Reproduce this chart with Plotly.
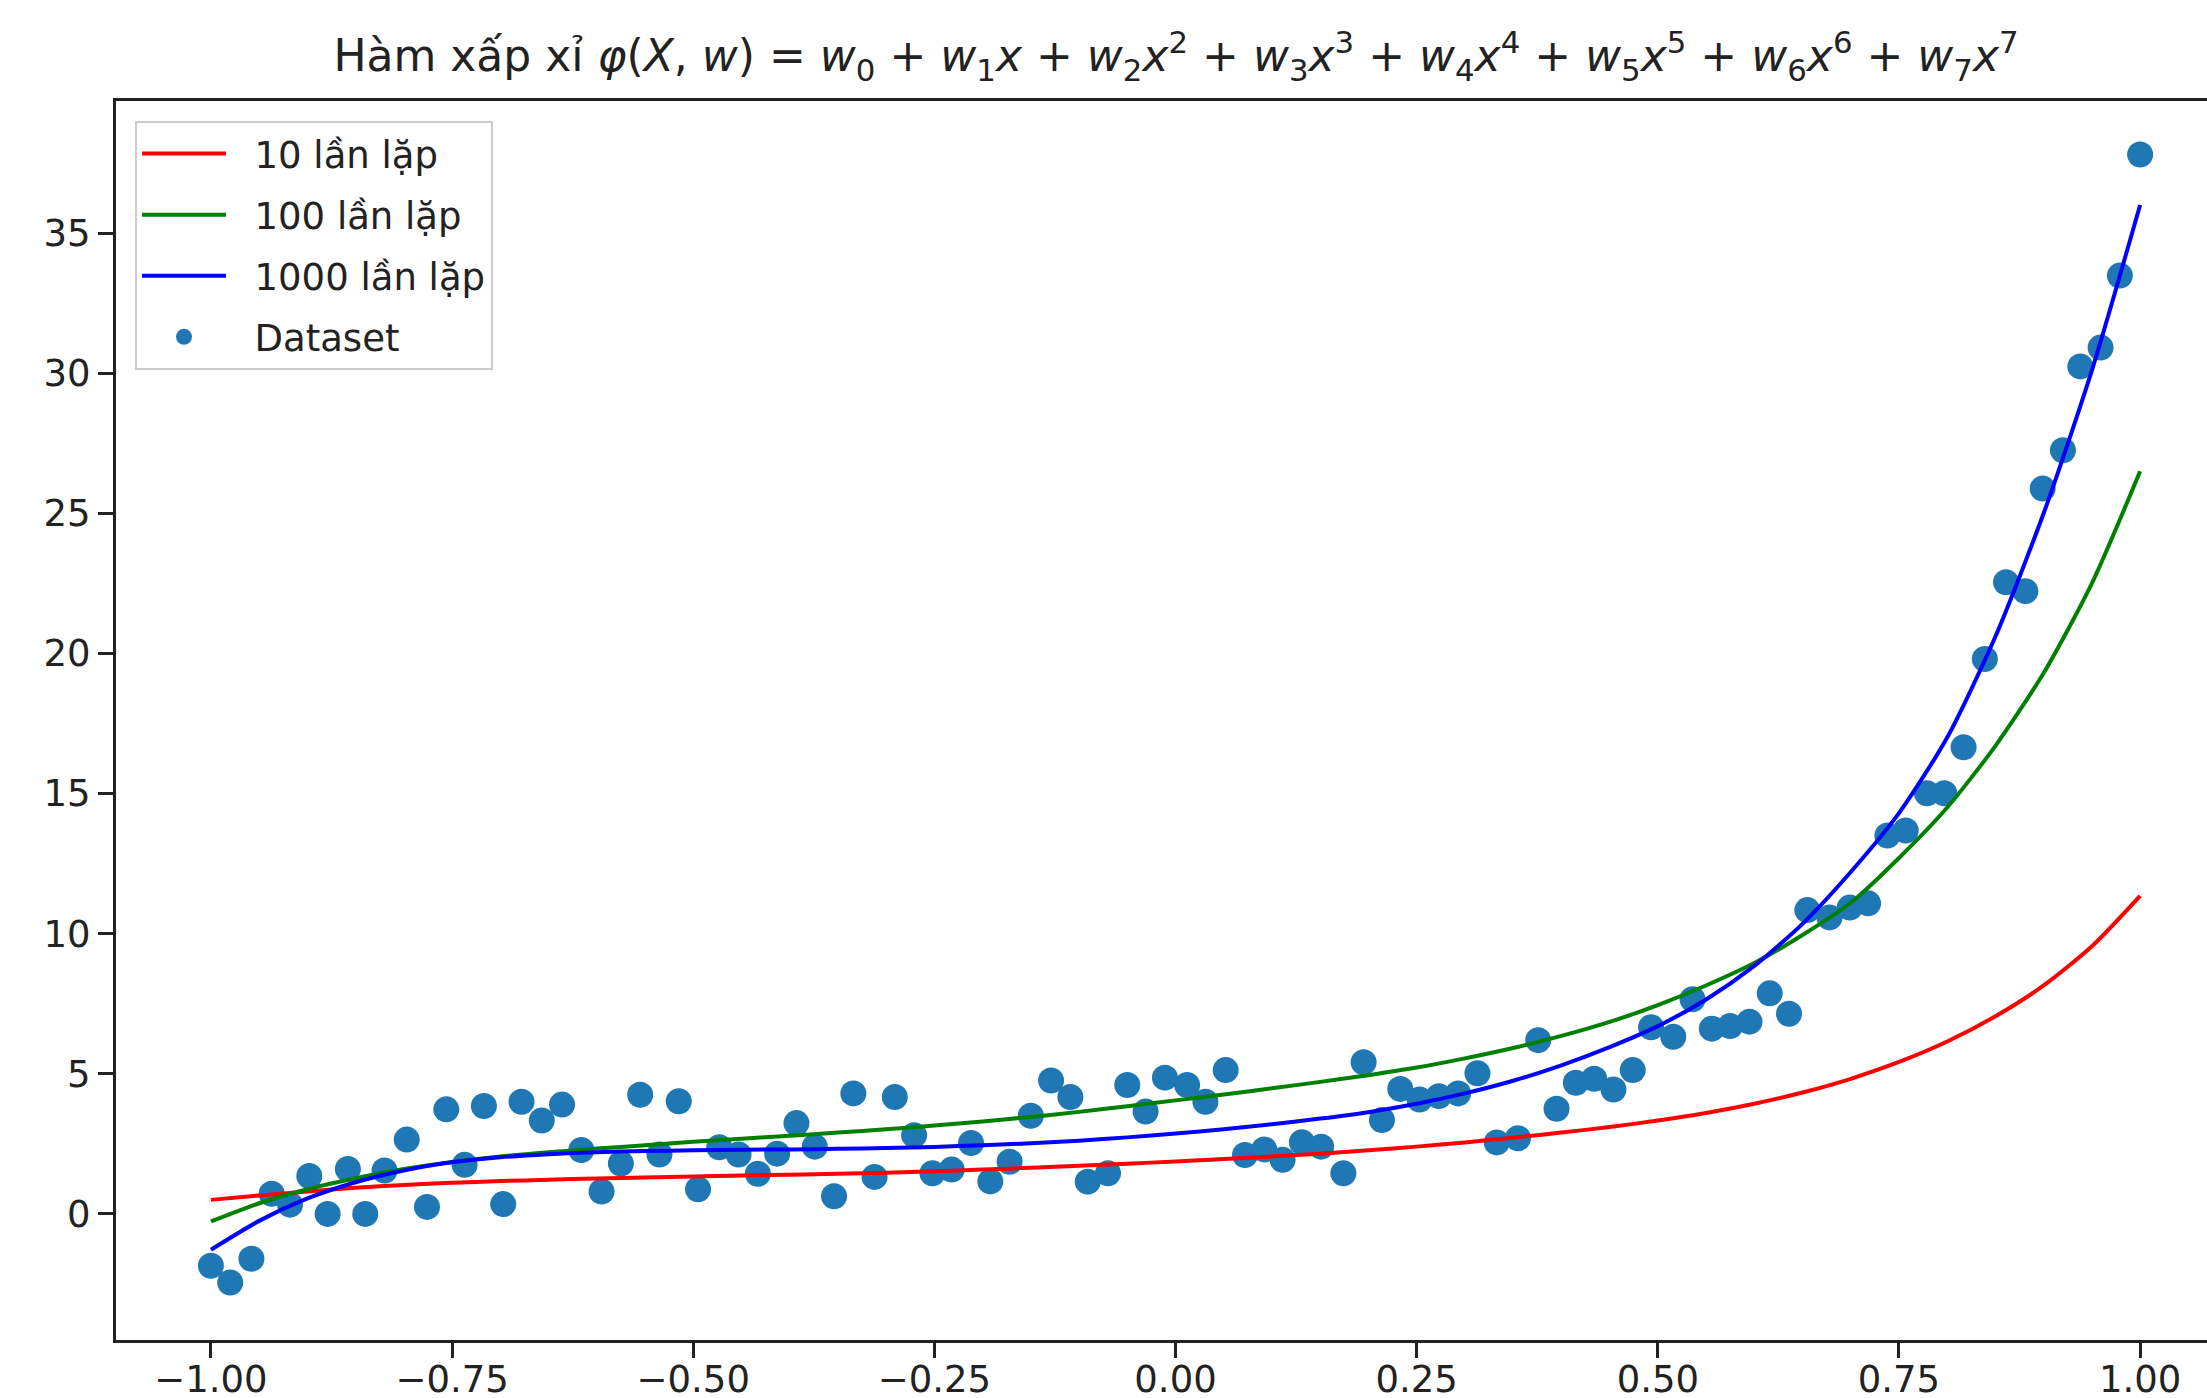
import plotly.graph_objects as go

# ---- Dataset ----
data_x = [-1.0, -0.98, -0.958, -0.937, -0.918, -0.898, -0.879, -0.858, -0.84, -0.82,
          -0.797, -0.776, -0.756, -0.737, -0.717, -0.697, -0.678, -0.657, -0.636, -0.616,
          -0.595, -0.575, -0.555, -0.535, -0.515, -0.495, -0.473, -0.453, -0.433, -0.413,
          -0.393, -0.374, -0.354, -0.334, -0.312, -0.291, -0.271, -0.252, -0.232, -0.212,
          -0.192, -0.172, -0.15, -0.129, -0.109, -0.091, -0.07, -0.05, -0.031, -0.011,
          0.012, 0.031, 0.052, 0.072, 0.092, 0.111, 0.131, 0.151, 0.174, 0.195,
          0.214, 0.233, 0.253, 0.273, 0.293, 0.313, 0.333, 0.355, 0.376, 0.395,
          0.415, 0.434, 0.454, 0.474, 0.493, 0.516, 0.536, 0.556, 0.575, 0.595,
          0.616, 0.636, 0.655, 0.678, 0.699, 0.718, 0.738, 0.757, 0.779, 0.797,
          0.817, 0.839, 0.861, 0.881, 0.899, 0.92, 0.938, 0.959, 0.979, 1.0]
data_y = [-1.85, -2.45, -1.6, 0.72, 0.33, 1.35, 0.0, 1.6, 0.0, 1.55,
          2.65, 0.25, 3.73, 1.75, 3.85, 0.35, 4.0, 3.33, 3.9, 2.28,
          0.8, 1.8, 4.25, 2.12, 4.02, 0.88, 2.38, 2.12, 1.43, 2.15,
          3.24, 2.4, 0.63, 4.3, 1.32, 4.17, 2.81, 1.45, 1.58, 2.53,
          1.16, 1.86, 3.5, 4.76, 4.17, 1.15, 1.45, 4.6, 3.65, 4.86,
          4.6, 4.0, 5.13, 2.1, 2.3, 1.93, 2.56, 2.4, 1.45, 5.41,
          3.35, 4.46, 4.08, 4.2, 4.3, 5.02, 2.55, 2.7, 6.2, 3.75,
          4.68, 4.82, 4.44, 5.13, 6.66, 6.32, 7.66, 6.61, 6.7, 6.86,
          7.87, 7.14, 10.84, 10.58, 10.93, 11.08, 13.5, 13.68, 15.01, 15.01,
          16.65, 19.8, 22.54, 22.22, 25.88, 27.25, 30.24, 30.91, 33.48, 37.8]

# ---- Fitted curves (every 0.05) ----
curve_x = [-1.0, -0.95, -0.9, -0.85, -0.8, -0.75, -0.7, -0.65, -0.6, -0.55,
           -0.5, -0.45, -0.4, -0.35, -0.3, -0.25, -0.2, -0.15, -0.1, -0.05,
           0.0, 0.05, 0.1, 0.15, 0.2, 0.25, 0.3, 0.35, 0.4, 0.45,
           0.5, 0.55, 0.6, 0.65, 0.7, 0.75, 0.8, 0.85, 0.9, 0.95, 1.0]
red_10 = [0.5, 0.66, 0.8, 0.93, 1.03, 1.11, 1.17, 1.22, 1.26, 1.3,
          1.33, 1.37, 1.4, 1.43, 1.47, 1.52, 1.58, 1.65, 1.72, 1.79,
          1.87, 1.96, 2.05, 2.15, 2.27, 2.4, 2.55, 2.72, 2.9, 3.1,
          3.33, 3.6, 3.93, 4.33, 4.82, 5.42, 6.15, 7.05, 8.15, 9.55, 11.35]
green_100 = [-0.27, 0.38, 0.88, 1.27, 1.6, 1.85, 2.05, 2.2, 2.33, 2.45,
             2.57, 2.68, 2.79, 2.9, 3.02, 3.15, 3.3, 3.46, 3.64, 3.84,
             4.05, 4.26, 4.48, 4.71, 4.95, 5.22, 5.55, 5.92, 6.35, 6.85,
             7.45, 8.15, 8.95, 9.95, 11.1, 12.7, 14.5, 16.7, 19.3, 22.5, 26.5]
blue_1000 = [-1.28, -0.25, 0.55, 1.13, 1.55, 1.84, 2.02, 2.13, 2.2, 2.24,
             2.27, 2.29, 2.3, 2.32, 2.35, 2.39, 2.45, 2.52, 2.61, 2.73,
             2.87, 3.02, 3.2, 3.4, 3.63, 3.93, 4.3, 4.75, 5.3, 5.95,
             6.7, 7.65, 8.85, 10.35, 12.2, 14.3, 17.0, 20.6, 25.0, 30.1, 36.0]

x_tickvals = [-1.0, -0.75, -0.5, -0.25, 0.0, 0.25, 0.5, 0.75, 1.0]
x_ticktext = ["\u22121.00", "\u22120.75", "\u22120.50", "\u22120.25", "0.00", "0.25", "0.50", "0.75", "1.00"]
y_tickvals = [0, 5, 10, 15, 20, 25, 30, 35]
y_ticktext = ["0", "5", "10", "15", "20", "25", "30", "35"]

FONT = "DejaVu Sans"
W, H = 2207, 1398
L, T, B = 116, 101, 58
PAD = "\u00a0\u00a0"  # gap between legend sample and its text

fig = go.Figure()
fig.add_trace(go.Scatter(x=data_x, y=data_y, mode="markers", name=PAD + "Dataset",
                         marker=dict(size=26, color="#1f77b4", line=dict(width=0)),
                         legendgroup="d", legendrank=4))
for name, ys, col, rank in [("10 lần lặp", red_10, "#ff0000", 1),
                            ("100 lần lặp", green_100, "#008000", 2),
                            ("1000 lần lặp", blue_1000, "#0000ff", 3)]:
    fig.add_trace(go.Scatter(x=curve_x, y=ys, mode="lines", name=PAD + name,
                             line=dict(color=col, width=4, shape="spline", smoothing=0.7),
                             legendgroup=name, legendrank=rank))

title = ("Hàm xấp xỉ <i>φ</i>(<i>X</i>, <i>w</i>) = <i>w</i><sub>0</sub> + <i>w</i><sub>1</sub><i>x</i>"
         " + <i>w</i><sub>2</sub><i>x</i><sup>2</sup> + <i>w</i><sub>3</sub><i>x</i><sup>3</sup>"
         " + <i>w</i><sub>4</sub><i>x</i><sup>4</sup> + <i>w</i><sub>5</sub><i>x</i><sup>5</sup>"
         " + <i>w</i><sub>6</sub><i>x</i><sup>6</sup> + <i>w</i><sub>7</sub><i>x</i><sup>7</sup>")

x_left = -1.0984
x_right = x_left + (W - L) / 964.6
fig.update_layout(
    width=W, height=H,
    margin=dict(l=L, r=0, t=T, b=B, autoexpand=False),
    paper_bgcolor="white", plot_bgcolor="white",
    font=dict(family=FONT, size=37, color="#222222"),
    title=dict(text=title, x=(1176 - L) / (W - L), xref="paper", xanchor="center",
               y=1 - 56 / H, yref="container", yanchor="middle",
               font=dict(family=FONT, size=44, color="#222222")),
    showlegend=True,
    legend=dict(x=(135 - L) / (W - L), y=1 - (121 - T) / (H - T - B), xanchor="left", yanchor="top",
                bgcolor="rgba(255,255,255,0.8)", bordercolor="#cccccc", borderwidth=2,
                font=dict(family=FONT, size=37, color="#222222"),
                traceorder="grouped", tracegroupgap=10, itemwidth=84),
    xaxis=dict(range=[x_left, x_right], tickvals=x_tickvals, ticktext=x_ticktext,
               showgrid=False, zeroline=False, showline=True, linecolor="#222222", linewidth=3,
               mirror=True, ticks="outside", ticklen=15, tickwidth=2.5, tickcolor="#222222",
               ticklabelstandoff=-10,
               automargin=False, tickfont=dict(family=FONT, size=37, color="#222222")),
    yaxis=dict(range=[-4.5, 39.71], tickvals=y_tickvals, ticktext=y_ticktext,
               showgrid=False, zeroline=False, showline=True, linecolor="#222222", linewidth=3,
               ticks="outside", ticklen=15, tickwidth=2.5, tickcolor="#222222",
               automargin=False, tickfont=dict(family=FONT, size=37, color="#222222")),
)

fig.write_html("out.html")
